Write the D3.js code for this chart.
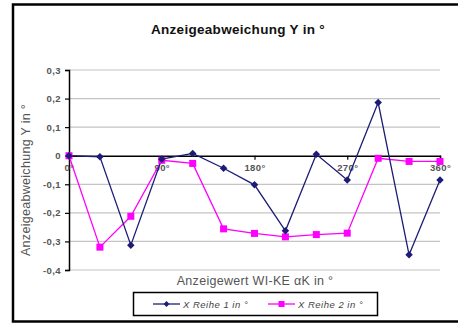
<!DOCTYPE html>
<html>
<head>
<meta charset="utf-8">
<script src="https://cdn.jsdelivr.net/npm/d3@7"></script>
<style>
  html, body { margin: 0; padding: 0; background: #fff; }
  svg { display: block; font-family: Arial, "Liberation Sans", sans-serif; }
</style>
</head>
<body>
<div id="chart"></div>
<script>
// Anzeigeabweichung chart - two series over 0..360 deg in 30 deg steps

const angles   = [0, 30, 60, 90, 120, 150, 180, 210, 240, 270, 300, 330, 360];
const reihe1   = [0, -0.004, -0.313, -0.012, 0.008, -0.044, -0.102, -0.263, 0.005, -0.085, 0.186, -0.347, -0.085];
const reihe2   = [0, -0.32, -0.212, -0.016, -0.027, -0.256, -0.272, -0.284, -0.276, -0.271, -0.009, -0.02, -0.02];
const yTicks   = [0.3, 0.2, 0.1, 0, -0.1, -0.2, -0.3, -0.4];
const xTicks   = [0, 90, 180, 270, 360];
const seriesNames = ["X Reihe 1 in °", "X Reihe 2 in °"];

const W = 458, H = 324;
const NAVY = "#1c1c78", PINK = "#ff00ff";
const FONT = "Arial, 'Liberation Sans', sans-serif";

const svg = d3.select("#chart").append("svg")
  .attr("width", W).attr("height", H);

// outer frame
svg.append("rect")
  .attr("x", 13).attr("y", 4.5)
  .attr("width", 470).attr("height", 317)
  .attr("fill", "#fff")
  .attr("stroke", "#000")
  .attr("stroke-width", 2.5);

const x = d3.scaleLinear().domain([0, 360]).range([69, 440]);
const y = d3.scaleLinear().domain([-0.4, 0.3]).range([270, 70]);

const fmt = v => (v === 0 ? "0" : d3.format(".1f")(v).replace(".", ",").replace("−", "-"));

// grid lines
svg.selectAll(".grid")
  .data(yTicks.filter(d => d !== 0))
  .join("line")
    .attr("class", "grid")
    .attr("x1", x(0)).attr("x2", x(360))
    .attr("y1", d => y(d)).attr("y2", d => y(d))
    .attr("stroke", "#c4c4c4")
    .attr("stroke-width", 1.2);

// y axis
const yAxisG = svg.append("g")
  .attr("transform", `translate(${x(0)},0)`)
  .call(d3.axisLeft(y).tickValues(yTicks).tickSize(4).tickPadding(4).tickFormat(fmt));
yAxisG.select(".domain").attr("stroke", "#000").attr("stroke-width", 1.5);
yAxisG.selectAll(".tick line").attr("stroke", "#000").attr("stroke-width", 1.2);
yAxisG.selectAll("text")
  .attr("fill", "#555")
  .attr("font-size", "9.5px")
  .attr("font-weight", "bold")
  .attr("letter-spacing", "0.4px")
  .attr("font-family", FONT);

// x axis sits on zero
const xAxisG = svg.append("g")
  .attr("transform", `translate(0,${y(0)})`)
  .call(d3.axisBottom(x).tickValues(xTicks).tickSize(4).tickPadding(5).tickFormat(d => d + "°"));
xAxisG.select(".domain").attr("stroke", "#000").attr("stroke-width", 1.5);
xAxisG.selectAll(".tick line").attr("stroke", "#000").attr("stroke-width", 1.2);
xAxisG.selectAll("text")
  .attr("fill", "#555")
  .attr("font-size", "9.5px")
  .attr("font-weight", "bold")
  .attr("letter-spacing", "0.4px")
  .attr("font-family", FONT);

// series lines
const line = d3.line().x((d, i) => x(angles[i])).y(d => y(d));

svg.append("path").datum(reihe2)
  .attr("d", line).attr("fill", "none")
  .attr("stroke", PINK).attr("stroke-width", 1.3);

svg.append("path").datum(reihe1)
  .attr("d", line).attr("fill", "none")
  .attr("stroke", NAVY).attr("stroke-width", 1.3);

// markers
const diamond = d3.symbol().type(d3.symbolDiamond2).size(36);

svg.selectAll(".sq")
  .data(reihe2)
  .join("rect")
    .attr("class", "sq")
    .attr("x", (d, i) => x(angles[i]) - 3.5)
    .attr("y", d => y(d) - 3.5)
    .attr("width", 7).attr("height", 7)
    .attr("fill", PINK);

svg.selectAll(".dm")
  .data(reihe1)
  .join("path")
    .attr("class", "dm")
    .attr("transform", (d, i) => `translate(${x(angles[i])},${y(d)})`)
    .attr("d", diamond)
    .attr("fill", NAVY);

// title
svg.append("text")
  .attr("x", 238).attr("y", 34)
  .attr("text-anchor", "middle")
  .attr("font-size", "13.5px")
  .attr("font-weight", "bold")
  .attr("letter-spacing", "0.3px")
  .attr("fill", "#111")
  .text("Anzeigeabweichung Y in °");

// axis titles
svg.append("text")
  .attr("transform", "rotate(-90)")
  .attr("x", -180).attr("y", 30)
  .attr("text-anchor", "middle")
  .attr("font-size", "12.5px")
  .attr("letter-spacing", "0.3px")
  .attr("fill", "#555")
  .text("Anzeigeabweichung Y in °");

svg.append("text")
  .attr("x", 255).attr("y", 285)
  .attr("text-anchor", "middle")
  .attr("font-size", "12.5px")
  .attr("letter-spacing", "0.3px")
  .attr("fill", "#555")
  .text("Anzeigewert WI-KE αK in °");

// legend
const lg = svg.append("g");
lg.append("rect")
  .attr("x", 133.5).attr("y", 292.5)
  .attr("width", 244).attr("height", 23)
  .attr("fill", "#fff")
  .attr("stroke", "#000")
  .attr("stroke-width", 1.5);

const legendItems = [
  { name: seriesNames[0], color: NAVY, x0: 153, shape: "diamond" },
  { name: seriesNames[1], color: PINK, x0: 268, shape: "square" },
];
legendItems.forEach(it => {
  const cy = 304;
  lg.append("line")
    .attr("x1", it.x0).attr("x2", it.x0 + 27)
    .attr("y1", cy).attr("y2", cy)
    .attr("stroke", it.color).attr("stroke-width", 1.3);
  if (it.shape === "diamond") {
    lg.append("path")
      .attr("transform", `translate(${it.x0 + 13.5},${cy})`)
      .attr("d", d3.symbol().type(d3.symbolDiamond2).size(22)).attr("fill", it.color);
  } else {
    lg.append("rect")
      .attr("x", it.x0 + 10.5).attr("y", cy - 3)
      .attr("width", 6).attr("height", 6)
      .attr("fill", it.color);
  }
  lg.append("text")
    .attr("x", it.x0 + 30).attr("y", cy + 3.5)
    .attr("font-size", "9.5px")
    .attr("font-style", "italic")
    .attr("letter-spacing", "0.5px")
    .attr("fill", "#444")
    .text(it.name);
});
</script>
</body>
</html>
